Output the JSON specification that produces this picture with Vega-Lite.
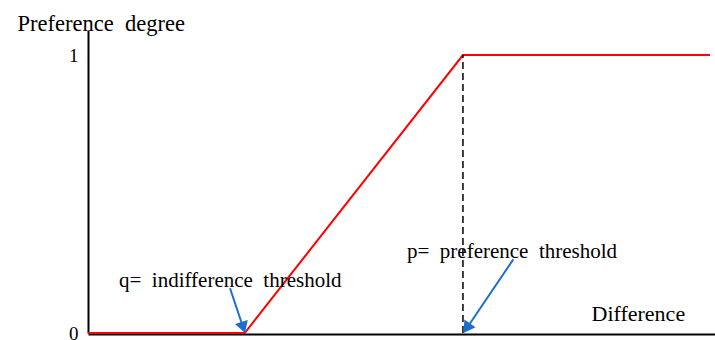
{
  "$schema": "https://vega.github.io/schema/vega-lite/v6.json",
  "width": 627,
  "height": 303,
  "autosize": {"type": "none"},
  "padding": {"left": 88, "top": 30, "right": 0, "bottom": 7},
  "background": "white",
  "config": {"view": {"stroke": null}, "font": "Liberation Serif"},
  "datasets": {
    "curve": [
      {"difference": 0, "degree": 0},
      {"difference": 2.5, "degree": 0},
      {"difference": 5.98, "degree": 1},
      {"difference": 9.92, "degree": 1}
    ],
    "threshold": [
      {"difference": 5.98, "degree": 0, "degree_end": 1}
    ],
    "arrows": [
      {"label": "q", "difference": 2.265, "degree": 0.1608, "difference_end": 2.475, "degree_end": 0.0198},
      {"label": "p", "difference": 6.783, "degree": 0.265, "difference_end": 6.04, "degree_end": 0.0173}
    ],
    "notes": [
      {"text": "q=\u00a0\u00a0indifference\u00a0\u00a0threshold", "difference": 0.494, "degree": 0.1655},
      {"text": "p=\u00a0\u00a0preference\u00a0\u00a0threshold", "difference": 5.088, "degree": 0.2698}
    ]
  },
  "encoding": {
    "x": {
      "field": "difference", "type": "quantitative", "title": "Difference",
      "scale": {"domain": [0, 10], "nice": false, "zero": false},
      "axis": {
        "ticks": false, "labels": false, "grid": false,
        "domainColor": "black", "domainWidth": 2, "offset": 1,
        "titleFont": "Liberation Serif", "titleFontSize": 22, "titleFontWeight": "normal",
        "titleColor": "black", "titleAlign": "left", "titleBaseline": "alphabetic",
        "titleX": 503, "titleY": -14
      }
    },
    "y": {
      "field": "degree", "type": "quantitative", "title": "Preference\u00a0\u00a0degree",
      "scale": {"domain": [0, 1.09], "nice": false},
      "axis": {
        "values": [0, 1], "format": "d",
        "ticks": false, "grid": false, "labelPadding": 10,
        "labelFont": "Liberation Serif", "labelFontSize": 19, "labelColor": "black",
        "domainColor": "black", "domainWidth": 2,
        "titleAngle": 0, "titleAlign": "left", "titleBaseline": "alphabetic",
        "titleX": -71, "titleY": 0,
        "titleFont": "Liberation Serif", "titleFontSize": 22.5, "titleFontWeight": "normal",
        "titleColor": "black"
      }
    }
  },
  "layer": [
    {
      "data": {"name": "curve"},
      "mark": {"type": "line", "color": "#ff0000", "strokeWidth": 2}
    },
    {
      "data": {"name": "threshold"},
      "mark": {"type": "rule", "color": "black", "strokeWidth": 1.5, "strokeDash": [7, 4]},
      "encoding": {
        "y2": {"field": "degree_end"}
      }
    },
    {
      "data": {"name": "arrows"},
      "mark": {"type": "rule", "color": "#1a6fcc", "strokeWidth": 2},
      "encoding": {
        "x2": {"field": "difference_end"},
        "y2": {"field": "degree_end"}
      }
    },
    {
      "data": {"name": "arrows"},
      "transform": [{"filter": "datum.label == 'q'"}],
      "mark": {"type": "point", "shape": "triangle-down", "filled": true, "color": "#1a6fcc", "size": 180, "angle": -18, "opacity": 1},
      "encoding": {
        "x": {"field": "difference_end", "type": "quantitative", "title": "Difference"},
        "y": {"field": "degree_end", "type": "quantitative", "title": "Preference\u00a0\u00a0degree"}
      }
    },
    {
      "data": {"name": "arrows"},
      "transform": [{"filter": "datum.label == 'p'"}],
      "mark": {"type": "point", "shape": "triangle-down", "filled": true, "color": "#1a6fcc", "size": 180, "angle": 34, "opacity": 1},
      "encoding": {
        "x": {"field": "difference_end", "type": "quantitative", "title": "Difference"},
        "y": {"field": "degree_end", "type": "quantitative", "title": "Preference\u00a0\u00a0degree"}
      }
    },
    {
      "data": {"name": "notes"},
      "mark": {"type": "text", "align": "left", "baseline": "alphabetic", "fontSize": 21, "color": "black", "font": "Liberation Serif"},
      "encoding": {
        "text": {"field": "text"}
      }
    }
  ]
}
